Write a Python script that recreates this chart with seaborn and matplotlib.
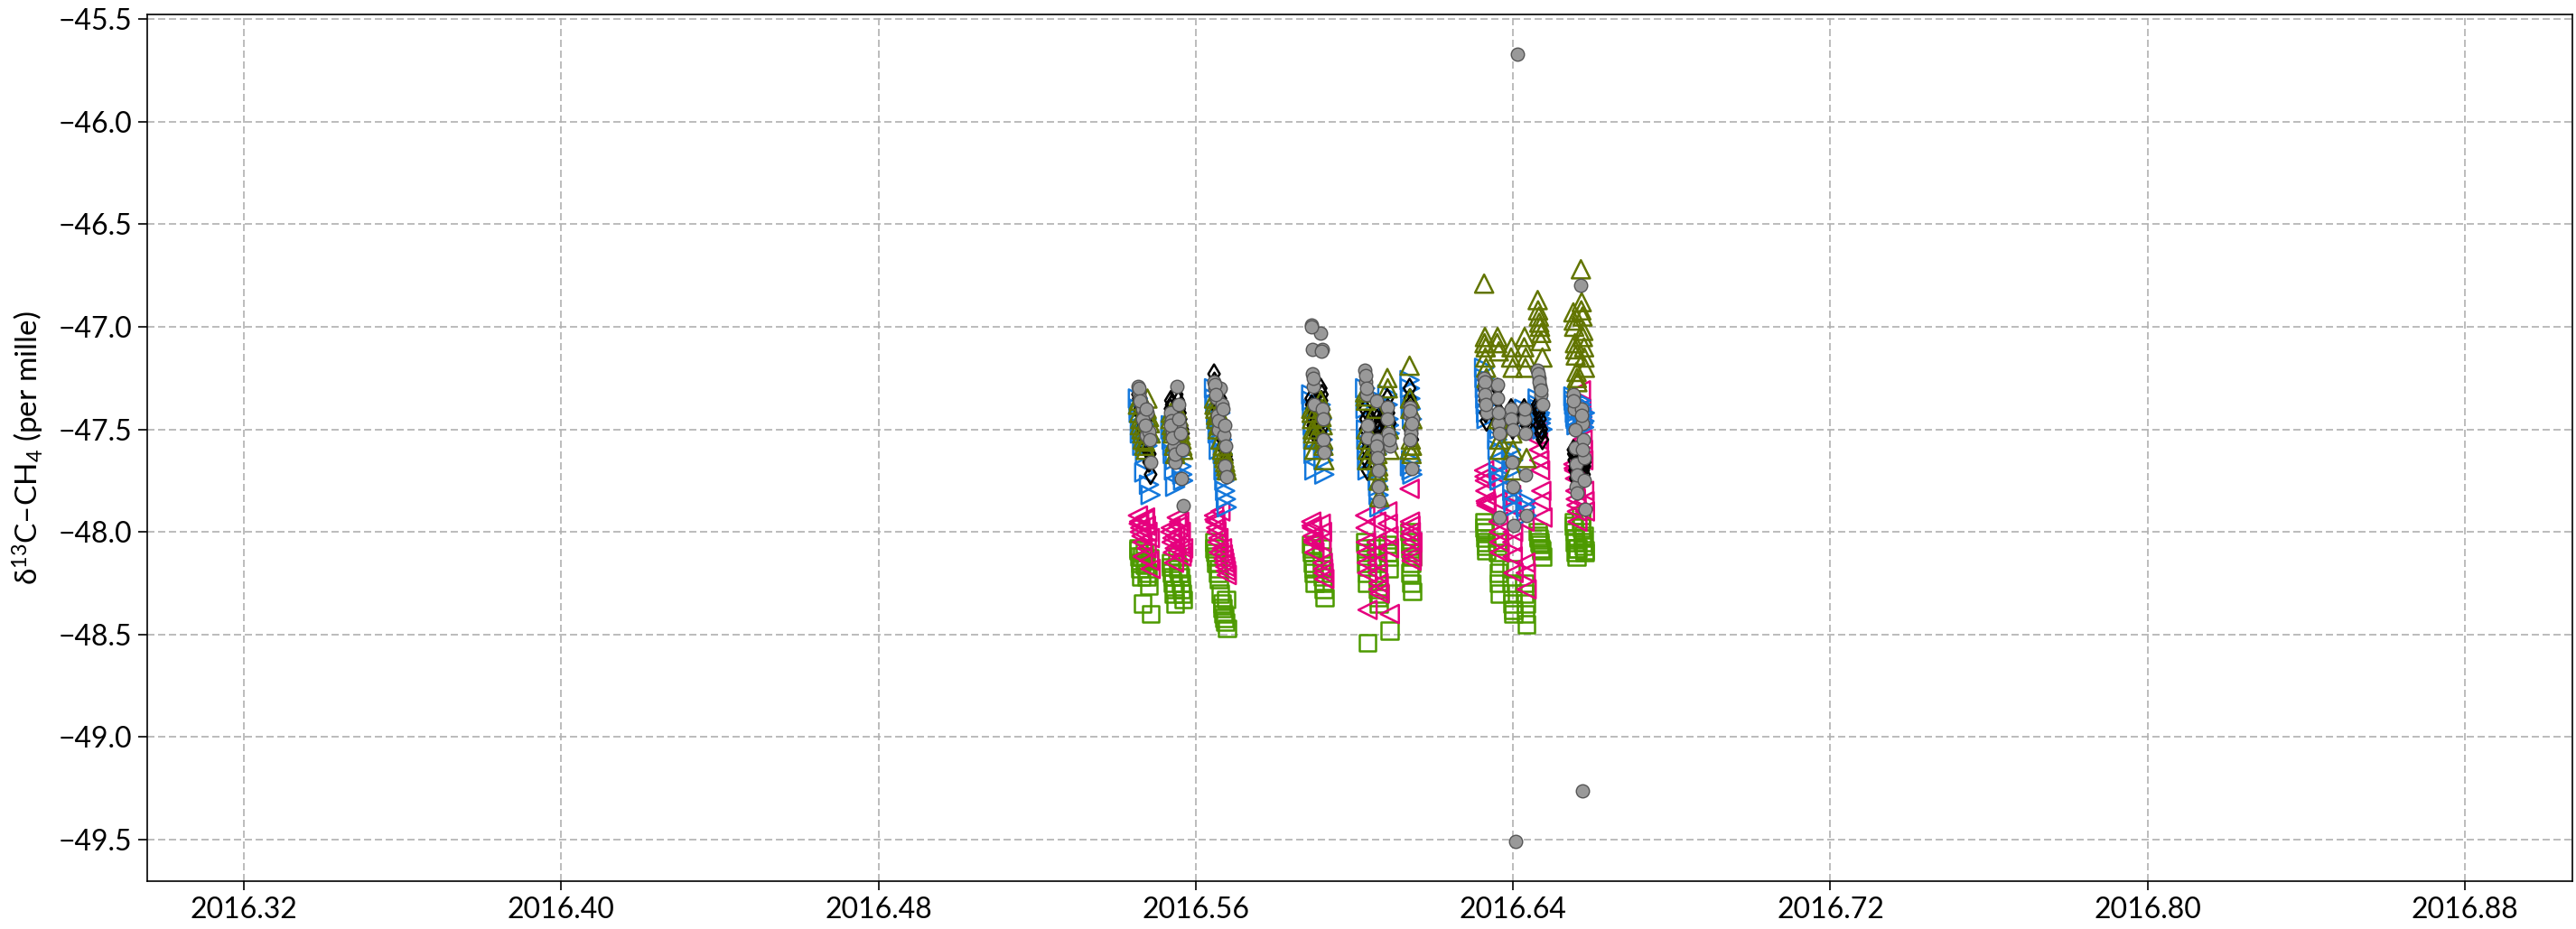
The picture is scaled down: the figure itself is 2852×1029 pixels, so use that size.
import numpy as np
import pandas as pd
import matplotlib
matplotlib.use("Agg")
import matplotlib.pyplot as plt
import seaborn as sns

nan = np.nan

# ---- sample times (decimal year) ----
times = [
    # cluster A
    2016.5454, 2016.5457, 2016.5460, 2016.5463, 2016.5466, 2016.5470, 2016.5474, 2016.5478, 2016.5482, 2016.5486,
    2016.5456, 2016.5459, 2016.5465, 2016.5472, 2016.5476, 2016.5484,
    # cluster B
    2016.5536, 2016.5539, 2016.5542, 2016.5545, 2016.5548, 2016.5552, 2016.5556, 2016.5560, 2016.5564, 2016.5568,
    2016.5537, 2016.5541, 2016.5547, 2016.5558, 2016.5562, 2016.5566,
    # cluster C
    2016.5646, 2016.5649, 2016.5652, 2016.5655, 2016.5658, 2016.5662, 2016.5666, 2016.5670, 2016.5674, 2016.5678,
    2016.5647, 2016.5651, 2016.5657, 2016.5668, 2016.5672, 2016.5676,
    # cluster D
    2016.5891, 2016.5893, 2016.5895, 2016.5897, 2016.5899, 2016.5915, 2016.5918, 2016.5920, 2016.5922, 2016.5924,
    2016.5892, 2016.5896, 2016.5917, 2016.5921,
    # cluster E
    2016.6027, 2016.6029, 2016.6031, 2016.6033, 2016.6055, 2016.6057, 2016.6059, 2016.6061, 2016.6063, 2016.6083, 2016.6086, 2016.6089,
    2016.6028, 2016.6030, 2016.6032, 2016.6056, 2016.6058, 2016.6060, 2016.6084, 2016.6087,
    # cluster F
    2016.6139, 2016.6140, 2016.6142, 2016.6143, 2016.6144, 2016.6146,
    2016.6141, 2016.6145, 2016.6140,
    # cluster G
    2016.6327, 2016.6329, 2016.6331, 2016.6333, 2016.6360, 2016.6363, 2016.6366, 2016.6395, 2016.6398, 2016.6401,
    2016.6428, 2016.6431, 2016.6434, 2016.6462, 2016.6465, 2016.6468, 2016.6471, 2016.6474,
    2016.6328, 2016.6330, 2016.6332, 2016.6361, 2016.6364, 2016.6365, 2016.6396, 2016.6399, 2016.6400,
    2016.6429, 2016.6432, 2016.6463, 2016.6466, 2016.6470,
    # cluster H
    2016.6552, 2016.6554, 2016.6556, 2016.6558, 2016.6560, 2016.6562, 2016.6571, 2016.6573, 2016.6575, 2016.6577, 2016.6579, 2016.6581,
    2016.6553, 2016.6557, 2016.6561, 2016.6572, 2016.6576, 2016.6580,
    # isolated outliers
    2016.6411, 2016.6407, 2016.6574,
]

# ---- series values (delta13C-CH4, per mille) ----
gray_circles = [
    -47.29, -47.32, -47.35, -47.38, -47.40, -47.43, -47.53, -47.42, -47.51, -47.66,
    -47.30, -47.36, -47.45, -47.48, -47.40, -47.55,
    -47.42, -47.46, -47.51, -47.58, -47.66, -47.29, -47.38, -47.48, -47.74, -47.87,
    -47.48, -47.54, -47.62, -47.45, -47.52, -47.60,
    -47.27, -47.30, -47.35, -47.43, -47.50, -47.30, -47.38, -47.53, -47.68, -47.73,
    -47.28, -47.33, -47.46, -47.40, -47.48, -47.58,
    -46.99, -47.11, -47.23, -47.29, -47.38, -47.03, -47.11, -47.40, -47.55, -47.61,
    -47.00, -47.25, -47.12, -47.45,
    -47.21, -47.27, -47.33, -47.54, -47.36, -47.55, -47.61, -47.78, -47.85, -47.39, -47.52, -47.58,
    -47.24, -47.30, -47.48, -47.58, -47.64, -47.70, -47.45, -47.55,
    -47.39, -47.43, -47.50, -47.52, -47.69, -47.45,
    -47.41, -47.47, -47.55,
    -47.25, -47.30, -47.36, -47.42, -47.28, -47.47, -47.93, -47.40, -47.66, -47.97,
    -47.45, -47.72, -47.92, -47.21, -47.25, -47.29, -47.33, -47.38,
    -47.27, -47.33, -47.38, -47.35, -47.42, -47.52, -47.45, -47.50, -47.78,
    -47.40, -47.52, -47.23, -47.27, -47.31,
    -47.33, -47.40, -47.59, -47.67, -47.78, -47.81, -46.80, -47.40, -47.47, -47.55, -47.64, -47.89,
    -47.36, -47.50, -47.72, -47.43, -47.60, -47.75,
    -45.67, -49.51, -49.26,
]
black_diamonds = [
    -47.33, -47.36, -47.40, -47.42, -47.45, -47.48, -47.55, -47.50, -47.66, -47.72,
    -47.35, -47.42, -47.50, -47.58, -47.45, -47.62,
    -47.40, -47.38, -47.45, -47.50, -47.55, -47.33, -47.36, -47.42, -47.48, -47.52,
    -47.36, -47.42, -47.48, -47.40, -47.45, -47.50,
    -47.23, -47.30, -47.36, -47.40, -47.45, -47.35, -47.50, -47.58, -47.62, -47.65,
    -47.27, -47.33, -47.42, -47.55, -47.60, -47.63,
    -47.35, -47.40, -47.45, -47.50, -47.52, -47.30, -47.33, -47.42, -47.48, -47.55,
    -47.38, -47.48, -47.36, -47.45,
    -47.40, -47.45, -47.65, -47.70, -47.40, -47.45, -47.48, -47.50, -47.52, -47.35, -47.42, -47.47,
    -47.50, -47.55, -47.60, -47.42, -47.50, -47.55, -47.40, -47.50,
    -47.30, -47.35, -47.42, -47.48, -47.52, -47.55,
    -47.38, -47.45, -47.50,
    -47.30, -47.36, -47.42, -47.46, -47.30, -47.45, -47.42, -47.40, -47.47, -47.45,
    -47.40, -47.45, -47.48, -47.38, -47.42, -47.45, -47.50, -47.55,
    -47.28, -47.33, -47.38, -47.35, -47.42, -47.50, -47.45, -47.50, -47.44,
    -47.42, -47.46, -47.40, -47.48, -47.52,
    -47.60, -47.65, -47.70, -47.74, -47.68, -47.62, -47.58, -47.63, -47.66, -47.70, -47.72, -47.66,
    -47.62, -47.68, -47.72, -47.60, -47.65, -47.68,
    nan, nan, nan,
]
olive_up = [
    -47.38, -47.42, -47.45, -47.50, -47.55, -47.58, -47.60, -47.35, -47.44, -47.52,
    -47.36, -47.48, -47.52, -47.56, -47.40, -47.47,
    -47.45, -47.48, -47.52, -47.58, -47.62, -47.40, -47.44, -47.50, -47.55, -47.60,
    -47.42, -47.50, -47.56, -47.47, -47.53, -47.58,
    -47.35, -47.40, -47.45, -47.50, -47.42, -47.55, -47.60, -47.62, -47.66, -47.70,
    -47.38, -47.43, -47.48, -47.58, -47.64, -47.68,
    -47.40, -47.45, -47.50, -47.55, -47.60, -47.36, -47.40, -47.48, -47.58, -47.65,
    -47.42, -47.52, -47.44, -47.55,
    -47.32, -47.36, -47.55, -47.60, -47.40, -47.65, -47.70, -47.75, -47.83, -47.25, -47.55, -47.60,
    -47.34, -47.50, -47.65, -47.58, -47.62, -47.68, -47.30, -47.50,
    -47.19, -47.35, -47.55, -47.58, -47.62, -47.45,
    -47.40, -47.58, -47.60,
    -46.79, -47.05, -47.10, -47.25, -47.08, -47.45, -47.60, -47.15, -47.52, -47.70,
    -47.10, -47.20, -47.64, -46.87, -46.95, -47.00, -47.03, -47.15,
    -47.08, -47.15, -47.20, -47.05, -47.12, -47.55, -47.10, -47.20, -47.60,
    -47.05, -47.15, -46.92, -46.98, -47.07,
    -46.93, -47.00, -47.08, -47.14, -47.22, -47.27, -46.72, -46.88, -46.95, -47.02, -47.10, -47.20,
    -46.97, -47.11, -47.25, -46.92, -47.05, -47.15,
    nan, nan, nan,
]
blue_right = [
    -47.35, -47.40, -47.45, -47.50, -47.55, -47.71, -47.48, -47.58, -47.77, -47.82,
    -47.42, -47.52, -47.58, -47.62, -47.45, -47.55,
    -47.50, -47.55, -47.62, -47.70, -47.78, -47.45, -47.52, -47.60, -47.68, -47.75,
    -47.48, -47.58, -47.65, -47.55, -47.62, -47.72,
    -47.30, -47.38, -47.45, -47.52, -47.60, -47.42, -47.55, -47.70, -47.80, -47.88,
    -47.35, -47.42, -47.50, -47.62, -47.75, -47.84,
    -47.33, -47.40, -47.48, -47.62, -47.70, -47.38, -47.45, -47.55, -47.65, -47.72,
    -47.36, -47.55, -47.50, -47.60,
    -47.30, -47.50, -47.60, -47.70, -47.35, -47.62, -47.75, -47.82, -47.88, -47.33, -47.45, -47.52,
    -47.40, -47.55, -47.65, -47.58, -47.70, -47.78, -47.38, -47.48,
    -47.26, -47.30, -47.40, -47.65, -47.70, -47.72,
    -47.35, -47.45, -47.68,
    -47.20, -47.30, -47.38, -47.45, -47.55, -47.68, -47.75, -47.60, -47.80, -47.88,
    -47.40, -47.85, -47.92, -47.35, -47.40, -47.42, -47.45, -47.50,
    -47.25, -47.35, -47.42, -47.60, -47.72, -47.50, -47.70, -47.84, -47.65,
    -47.45, -47.88, -47.38, -47.43, -47.47,
    -47.34, -47.38, -47.42, -47.45, -47.48, -47.40, -47.36, -47.40, -47.44, -47.47, -47.49, -47.42,
    -47.36, -47.44, -47.46, -47.38, -47.42, -47.46,
    nan, nan, nan,
]
magenta_left = [
    -47.92, -47.95, -47.98, -48.02, -48.12, -47.94, -47.97, -48.00, -48.14, -48.18,
    -47.96, -48.00, -48.05, -47.93, -48.08, -48.03,
    -48.00, -48.05, -48.10, -48.15, -48.02, -47.93, -47.97, -48.06, -48.12, -48.08,
    -47.98, -48.03, -48.08, -47.95, -48.00, -48.10,
    -47.92, -47.95, -48.00, -48.05, -48.10, -47.90, -48.08, -48.13, -48.17, -48.21,
    -47.94, -47.98, -48.03, -48.11, -48.15, -48.19,
    -47.95, -47.98, -48.02, -48.05, -48.10, -47.96, -48.00, -48.15, -48.20, -48.23,
    -47.97, -48.04, -48.05, -48.18,
    -47.92, -48.05, -48.15, -48.38, -47.95, -48.10, -48.20, -48.25, -48.30, -47.90, -48.02, -48.40,
    -47.98, -48.10, -48.20, -48.05, -48.15, -48.28, -47.96, -48.08,
    -47.79, -47.95, -48.00, -48.10, -48.14, -48.05,
    -47.97, -48.12, -48.02,
    -47.70, -47.75, -47.85, -47.87, -47.72, -47.95, -48.10, -47.82, -48.05, -48.20,
    -47.90, -48.15, -48.28, -47.50, -47.60, -47.70, -47.80, -47.93,
    -47.73, -47.80, -47.86, -47.85, -48.00, -48.05, -47.88, -48.12, -48.00,
    -47.95, -48.20, -47.55, -47.65, -47.85,
    -47.67, -47.70, -47.74, -47.84, -47.87, -47.95, -47.31, -47.45, -47.55, -47.65, -47.80, -47.90,
    -47.69, -47.80, -47.90, -47.40, -47.60, -47.85,
    nan, nan, nan,
]
green_squares = [
    -48.08, -48.12, -48.15, -48.22, -48.35, -48.10, -48.14, -48.20, -48.26, -48.40,
    -48.09, -48.18, -48.12, -48.16, -48.22, -48.13,
    -48.15, -48.20, -48.25, -48.30, -48.35, -48.12, -48.18, -48.22, -48.28, -48.33,
    -48.17, -48.22, -48.28, -48.20, -48.25, -48.30,
    -48.05, -48.10, -48.15, -48.20, -48.23, -48.30, -48.35, -48.40, -48.44, -48.47,
    -48.08, -48.12, -48.18, -48.37, -48.42, -48.33,
    -48.06, -48.10, -48.15, -48.20, -48.25, -48.08, -48.12, -48.22, -48.28, -48.32,
    -48.08, -48.18, -48.18, -48.25,
    -48.05, -48.10, -48.20, -48.54, -48.08, -48.15, -48.28, -48.35, -48.30, -48.06, -48.12, -48.48,
    -48.08, -48.15, -48.25, -48.12, -48.22, -48.32, -48.10, -48.18,
    -48.00, -48.05, -48.10, -48.15, -48.25, -48.29,
    -48.08, -48.12, -48.20,
    -47.95, -48.00, -48.05, -48.09, -48.05, -48.20, -48.30, -48.18, -48.35, -48.40,
    -48.25, -48.40, -48.45, -48.00, -48.03, -48.06, -48.09, -48.12,
    -47.98, -48.03, -48.07, -48.10, -48.25, -48.15, -48.25, -48.30, -48.38,
    -48.30, -48.35, -48.02, -48.05, -48.08,
    -47.95, -48.00, -48.05, -48.10, -48.12, -48.08, -47.92, -47.98, -48.03, -48.07, -48.02, -48.10,
    -47.97, -48.03, -48.08, -47.95, -48.05, -48.09,
    nan, nan, nan,
]

x_ticks = [2016.32, 2016.40, 2016.48, 2016.56, 2016.64, 2016.72, 2016.80, 2016.88]
x_tick_labels = ["2016.32", "2016.40", "2016.48", "2016.56", "2016.64", "2016.72", "2016.80", "2016.88"]
y_ticks = [-45.5, -46.0, -46.5, -47.0, -47.5, -48.0, -48.5, -49.0, -49.5]
y_tick_labels = ["\u221245.5", "\u221246.0", "\u221246.5", "\u221247.0", "\u221247.5",
                 "\u221248.0", "\u221248.5", "\u221249.0", "\u221249.5"]

df = pd.DataFrame({
    "t": times,
    "gray": gray_circles,
    "black": black_diamonds,
    "olive": olive_up,
    "blue": blue_right,
    "magenta": magenta_left,
    "green": green_squares,
})

sns.set_theme(style="white")
plt.rcParams["font.family"] = ["Lato", "DejaVu Sans"]
plt.rcParams["mathtext.fontset"] = "custom"
plt.rcParams["mathtext.rm"] = "Lato"
plt.rcParams["mathtext.it"] = "Lato:italic"
plt.rcParams["axes.unicode_minus"] = True

fig = plt.figure(figsize=(28.52, 10.29), dpi=100)
ax = fig.add_axes([163 / 2852, 53 / 1029, 2685 / 2852, 960 / 1029])

open_lw = 1.8
# draw order: bottom -> top
layers = [
    ("green", "s", "#4d9a00", 180),
    ("magenta", "<", "#e6007e", 210),
    ("blue", ">", "#1478dc", 210),
    ("black", "d", "#000000", 115),
    ("olive", "^", "#627500", 210),
]
for col, mk, c, s in layers:
    sns.scatterplot(data=df, x="t", y=col, marker=mk, s=s, color=c,
                    facecolor="none", edgecolor=c, linewidth=open_lw,
                    ax=ax, legend=False, zorder=3)
sns.scatterplot(data=df, x="t", y="gray", marker="o", s=110, color="#999999",
                facecolor="#999999", edgecolor="#555555", linewidth=1.0,
                ax=ax, legend=False, zorder=4)

ax.set_xlim(2016.2956, 2016.9071)
ax.set_ylim(-49.702, -45.478)
ax.set_xticks(x_ticks)
ax.set_xticklabels(x_tick_labels)
ax.set_yticks(y_ticks)
ax.set_yticklabels(y_tick_labels)

ax.grid(True, color="#b0b0b0", linestyle=(0, (4.8, 2.4)), linewidth=1.2, zorder=0)
ax.set_axisbelow(True)
for sp in ax.spines.values():
    sp.set_color("black")
    sp.set_linewidth(1.2)
ax.tick_params(axis="both", which="major", direction="out", length=7, width=1.2,
               color="black", labelsize=23, pad=5, labelcolor="black",
               bottom=True, left=True)

ax.set_xlabel("")
ax.set_ylabel(r"δ$^{13}$C–CH$_4$ (per mille)", fontsize=24, color="black", labelpad=10)

fig.savefig("out.png", dpi=100)
